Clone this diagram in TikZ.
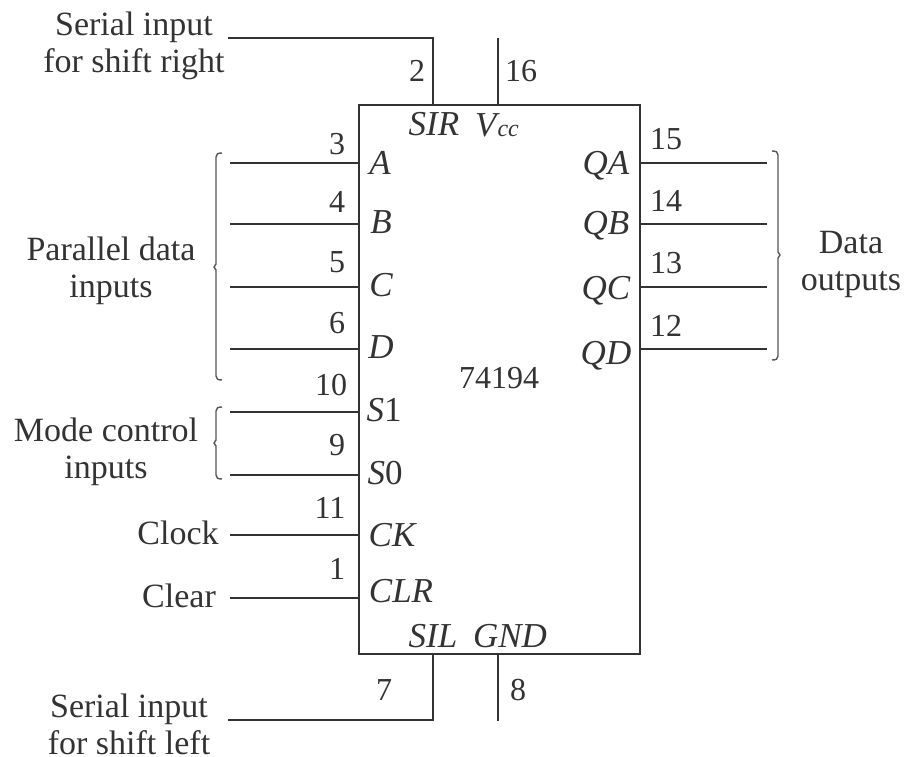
\documentclass[tikz,border=0pt]{standalone}
\usepackage{fontspec}
\setmainfont{Liberation Serif}
\definecolor{ink}{HTML}{333333}
\definecolor{brk}{HTML}{555555}
\tikzset{
  wire/.style={draw=ink,line width=1.8pt},
  chip/.style={draw=ink,line width=1.8pt,minimum width=281pt,minimum height=549pt,inner sep=0pt,outer sep=0pt},
  lab/.style={font=\fontsize{34}{37}\selectfont,text=ink,inner sep=0pt,align=center},
  num/.style={font=\fontsize{32}{36}\selectfont,text=ink,inner sep=0pt},
  sig/.style={font=\fontsize{35}{36}\selectfont\itshape,text=ink,inner sep=0pt},
  brace/.style={draw=brk,line width=1.4pt,line join=round}
}
\begin{document}
\begin{tikzpicture}[x=1pt,y=-1pt]
\useasboundingbox (0,0) rectangle (905,757);
\node[chip,anchor=north west] (box) at (359,105) {};

% free wire ends
\foreach \n/\y in {a/163,b/224,c/287,d/349,s1/412,s0/475,ck/535,clr/598}
  \coordinate (\n) at (230,\y);
\foreach \n/\y in {qa/163,qb/224,qc/287,qd/349}
  \coordinate (\n) at (767,\y);
\coordinate (sirend) at (228,38);
\coordinate (sircor) at (433,38);
\coordinate (vcc) at (498,38);
\coordinate (silend) at (228,720);
\coordinate (silcor) at (433,720);
\coordinate (gnd) at (498,721);

% wires
\foreach \n in {a,b,c,d,s1,s0,ck,clr}
  \draw[wire] (\n) -- (\n -| box.west);
\foreach \n in {qa,qb,qc,qd}
  \draw[wire] (\n -| box.east) -- (\n);
\draw[wire] (sirend) -- (sircor) -- (sircor |- box.north);
\draw[wire] (vcc) -- (vcc |- box.north);
\draw[wire] (silend) -- (silcor) -- (silcor |- box.south);
\draw[wire] (gnd) -- (gnd |- box.south);

% braces
\draw[brace] (222,153) .. controls (218,153) and (216,154) .. (216,157) -- (216,264) -- (214,267) -- (216,270) -- (216,376) .. controls (216,379) and (218,380) .. (222,380);
\draw[brace] (222,407) .. controls (218,407) and (216,408) .. (216,411) -- (216,440) -- (214,443) -- (216,446) -- (216,475) .. controls (216,478) and (218,479) .. (222,479);
\draw[brace] (772,151) .. controls (776,151) and (778,152) .. (778,155) -- (778,252) -- (780,255) -- (778,258) -- (778,356) .. controls (778,359) and (776,360) .. (772,360);

% outer labels
\node[lab] (t1) at (134,46) {Serial input\\for shift right};
\node[lab] (t2) at (111,271) {Parallel data\\inputs};
\node[lab] (t3) at (106,452) {Mode control\\inputs};
\node[lab] (t4) at (178,533) {Clock};
\node[lab] (t5) at (179,596) {Clear};
\node[lab,anchor=base] (t6a) at (129,717) {Serial input};
\node[lab,anchor=base] (t6b) at (129,754) {for shift left};
\node[lab] (t7) at (851,264) {Data\\outputs};
\node[num] (t8) at (499,378) {74194};

% pin numbers
\node[num] (n2) at (417,71) {2};
\node[num] (n16) at (521,71) {16};
\node[num] (n3) at (337,144) {3};
\node[num] (n4) at (337,202) {4};
\node[num] (n5) at (337,262) {5};
\node[num] (n6) at (337,323) {6};
\node[num] (n10) at (331,385) {10};
\node[num] (n9) at (337,445) {9};
\node[num] (n11) at (330,508) {11};
\node[num] (n1) at (337,569) {1};
\node[num] (n15) at (666,139) {15};
\node[num] (n14) at (666,201) {14};
\node[num] (n13) at (666,263) {13};
\node[num] (n12) at (666,326) {12};
\node[num] (n7) at (384,690) {7};
\node[num] (n8) at (518,690) {8};

% pin names
\node[sig] (sir) at (434,124) {SIR};
\node[sig] (vc) at (497,125) {V\kern1pt{\fontsize{24}{24}\selectfont cc}};
\node[sig] (pa) at (380,163) {A};
\node[sig] (pb) at (381,222) {B};
\node[sig] (pc) at (381,285) {C};
\node[sig] (pd) at (381,347) {D};
\node[sig] (ps1) at (384,410) {S\textup{1}};
\node[sig] (ps0) at (385,473) {S\textup{0}};
\node[sig] (pck) at (392,535) {CK};
\node[sig] (pclr) at (401,591) {CLR};
\node[sig] (sil) at (433,636) {SIL};
\node[sig] (pgnd) at (510,636) {GND};
\node[sig] (pqa) at (606,166) {QA};
\node[sig] (pqb) at (606,226) {QB};
\node[sig] (pqc) at (606,291) {QC};
\node[sig] (pqd) at (606,356) {QD};
\end{tikzpicture}
\end{document}
